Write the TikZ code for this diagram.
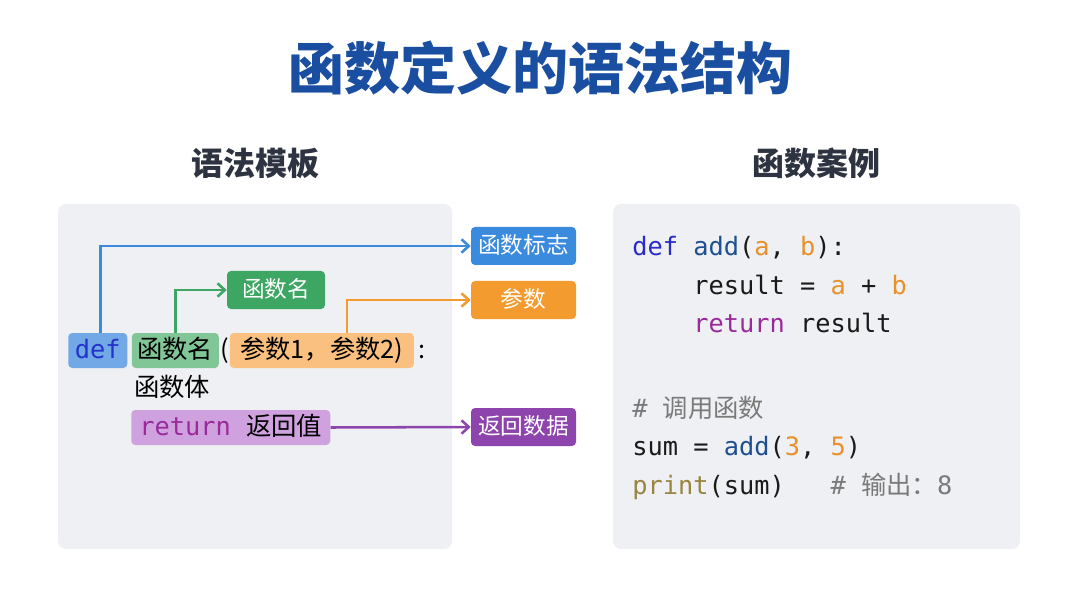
\documentclass[tikz,border=0pt]{standalone}
\usepackage{fontspec}
\setmainfont{Noto Sans CJK SC}
\setmonofont{DejaVu Sans Mono}
\newfontfamily\cjk{Noto Sans CJK SC}
\usetikzlibrary{arrows.meta, positioning, calc}
\usepackage{xcolor}
\definecolor{titleblue}{RGB}{26,78,160}
\definecolor{subgray}{RGB}{45,51,64}
\definecolor{panelgray}{RGB}{238,240,243}
\definecolor{flagblue}{RGB}{58,138,222}
\definecolor{nameg}{RGB}{60,166,98}
\definecolor{argorange}{RGB}{243,155,47}
\definecolor{retviolet}{RGB}{142,68,173}
\definecolor{defbg}{RGB}{114,168,230}
\definecolor{defblue}{RGB}{34,51,204}
\definecolor{namebg}{RGB}{128,198,150}
\definecolor{argbg}{RGB}{249,192,128}
\definecolor{retbg}{RGB}{207,161,223}
\definecolor{kwblue}{RGB}{43,43,200}
\definecolor{fnblue}{RGB}{29,79,145}
\definecolor{numorange}{RGB}{232,144,42}
\definecolor{kwpurple}{RGB}{154,42,154}
\definecolor{printolive}{RGB}{154,133,64}
\definecolor{cmtgray}{RGB}{122,122,122}
\definecolor{codeink}{RGB}{26,26,26}
\newcommand\codefont{\fontsize{19}{23}\selectfont}
\newcommand\tagfont{\fontsize{17}{20}\selectfont}

\begin{document}
\begin{tikzpicture}[x=0.75pt, y=-0.75pt,
  hl/.style={rounded corners=3pt, inner sep=0pt, minimum height=26.25pt,
    text height=15.8pt, text depth=3.2pt, font=\codefont},
  plain/.style={inner sep=0pt, text height=15.8pt, text depth=3.2pt, font=\codefont},
  tag/.style={rounded corners=3pt, inner sep=0pt, minimum width=78.75pt,
    minimum height=28.5pt, text height=14pt, text depth=2.8pt, text=white, font=\tagfont},
  link/.style={line width=1.9pt, -{Straight Barb[length=5.5pt,width=10pt]}},
  code/.style={anchor=mid west, inner sep=0pt, font=\codefont\ttfamily, text=codeink}]
  \useasboundingbox (0,0) rectangle (1080,609);
  \fill[white] (0,0) rectangle (1080,609);

  % titles
  \node[font=\fontsize{42}{48}\selectfont\bfseries, text=titleblue] (title) at (540,68) {函数定义的语法结构};
  \node[font=\fontsize{24}{28}\selectfont\bfseries, text=subgray] (lefthead) at (255,163) {语法模板};
  \node[font=\fontsize{24}{28}\selectfont\bfseries, text=subgray] (righthead) at (816,163) {函数案例};

  % panels
  \fill[panelgray, rounded corners=6pt] (58,204) rectangle (452,549);
  \fill[panelgray, rounded corners=6pt] (613,204) rectangle (1020,549);

  % template line
  \node[hl, fill=defbg, minimum width=44.25pt, anchor=west] (def) at (68,350.5) {\ttfamily\color{defblue}def};
  \node[hl, fill=namebg, minimum width=65.25pt, right=3pt of def] (fname) {函数名};
  \node[plain, right=0.5pt of fname] (lparen) {(};
  \node[hl, fill=argbg, minimum width=138pt, right=0.5pt of lparen] (args) {参数1，参数2)};
  \node[plain, right=3pt of args] (colon) {:};
  \node[plain, anchor=west] (body) at (134,388) {函数体};
  \node[hl, fill=retbg, minimum width=149.25pt, anchor=west] (ret) at (131,427.5) {{\ttfamily\color{kwpurple}return~}返回值};

  % tags
  \node[tag, fill=flagblue] (flag) at (523.5,246) {函数标志};
  \node[tag, fill=nameg, minimum width=73.5pt] (namelbl) at (276,290) {函数名};
  \node[tag, fill=argorange] (argslbl) at (523.5,300) {参数};
  \node[tag, fill=retviolet] (retlbl) at (523.5,427) {返回数据};

  % connectors
  \draw[link, flagblue] ([xshift=2pt]def.north) |- (flag.west);
  \draw[link, nameg] (fname.north) |- (namelbl.west);
  \draw[link, argorange] ([xshift=18.75pt]args.north) |- (argslbl.west);
  \draw[link, retviolet] (ret.east) -- (retlbl.west);

  % example code
  \node[code] (c1) at (632,252) {\textcolor{kwblue}{def} \textcolor{fnblue}{add}(\textcolor{numorange}{a}, \textcolor{numorange}{b}):};
  \node[code] (c2) at (632,291) {~~~~result = \textcolor{numorange}{a} + \textcolor{numorange}{b}};
  \node[code] (c3) at (632,329) {~~~~\textcolor{kwpurple}{return} result};
  \node[code, text=cmtgray] (c4) at (632,414) {\# {\cjk 调用函数}};
  \node[code] (c5) at (632,452) {sum = \textcolor{fnblue}{add}(\textcolor{numorange}{3}, \textcolor{numorange}{5})};
  \node[code] (c6) at (632,491) {\textcolor{printolive}{print}(sum)~~~\textcolor{cmtgray}{\# {\cjk 输出：}8}};
\end{tikzpicture}
\end{document}
